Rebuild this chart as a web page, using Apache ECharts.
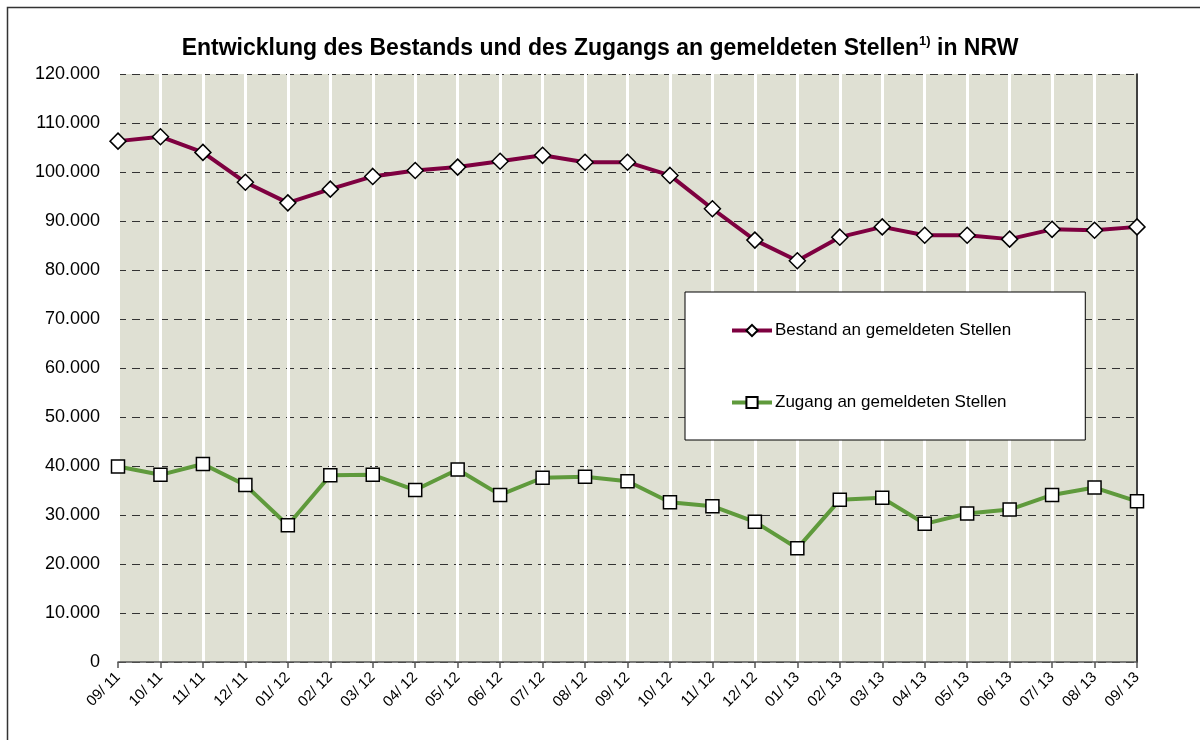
<!DOCTYPE html>
<html>
<head>
    <title></title>
    <meta charset="UTF-8">
    <script type="text/javascript" src="https://cdn.jsdelivr.net/npm/echarts@6/dist/echarts.min.js"></script>
    <style type="text/css">
        body,html{ padding:0px; margin:0px; background:#fff;}
        #chart_box{ width:1200px; height:740px; }
    </style>
</head>
<body>
<div id="chart_box"></div>
<script type="text/javascript">
    // Monate (x-Achse)
    var months = ["09/ 11","10/ 11","11/ 11","12/ 11","01/ 12","02/ 12","03/ 12","04/ 12","05/ 12","06/ 12","07/ 12","08/ 12","09/ 12",
                  "10/ 12","11/ 12","12/ 12","01/ 13","02/ 13","03/ 13","04/ 13","05/ 13","06/ 13","07/ 13","08/ 13","09/ 13"];
    // Bestand an gemeldeten Stellen
    var bestand = [106300,107200,104000,97900,93700,96500,99100,100300,101000,102200,103400,102000,102000,
                   99300,92500,86100,81900,86700,88800,87100,87100,86300,88300,88100,88800];
    // Zugang an gemeldeten Stellen
    var zugang = [39900,38200,40400,36100,27900,38100,38200,35100,39300,34100,37600,37800,36900,
                  32600,31800,28600,23200,33100,33500,28200,30300,31100,34100,35600,32800];
    var yMin = 0, yMax = 120000, yStep = 10000;

    function fmt(v) {
        return v === 0 ? '0' : String(v).replace(/\B(?=(\d{3})+(?!\d))/g, '.');
    }

    var myChart = echarts.init(document.getElementById('chart_box'));
    var font = 'Liberation Sans, Arial, sans-serif';

    var option = {
        backgroundColor: '#fff',
        animation: false,
        textStyle: { fontFamily: font },
        graphic: [{
            type: 'rect',
            shape: { x: 7.5, y: 7.5, width: 1210, height: 800 },
            style: { fill: 'none', stroke: '#333', lineWidth: 1.5 },
            z: -10
        }],
        title: {
            text: 'Entwicklung des Bestands und des Zugangs an gemeldeten Stellen{sup|1)} in NRW',
            left: 'center',
            top: 30,
            textStyle: {
                fontFamily: font,
                fontSize: 23,
                fontWeight: 'bold',
                color: '#000',
                lineHeight: 27,
                rich: {
                    sup: { fontSize: 13, fontWeight: 'bold', color: '#000', verticalAlign: 'top', fontFamily: font }
                }
            }
        },
        legend: {
            orient: 'vertical',
            left: 685,
            top: 292,
            backgroundColor: '#fff',
            borderColor: '#000',
            borderWidth: 1,
            padding: [30, 74, 29, 45],
            itemGap: 55,
            itemWidth: 40,
            itemHeight: 14,
            lineStyle: { width: 4 },
            textStyle: { fontSize: 17, color: '#000', fontFamily: font, padding: [0, 0, 0, -2] },
            data: ['Bestand an gemeldeten Stellen', 'Zugang an gemeldeten Stellen']
        },
        grid: {
            left: 118, right: 63, top: 74, bottom: 78,
            show: true,
            backgroundColor: '#dfe0d3',
            borderWidth: 0
        },
        xAxis: {
            type: 'category',
            boundaryGap: false,
            data: months,
            axisLine: { show: true, lineStyle: { color: '#555', width: 1.5 } },
            axisTick: { show: true, length: 6, lineStyle: { color: '#555', width: 1.5 } },
            axisLabel: { rotate: 45, fontSize: 15, color: '#000', margin: 13, fontFamily: font },
            splitLine: { show: true, lineStyle: { color: '#fff', width: 3 } }
        },
        yAxis: [{
            type: 'value',
            min: yMin, max: yMax, interval: yStep,
            axisLine: { show: false },
            axisTick: { show: false },
            axisLabel: { fontSize: 18, color: '#000', margin: 18, fontFamily: font, formatter: fmt },
            splitLine: { show: true, lineStyle: { color: '#333', width: 1, type: [8, 6] } }
        }, {
            type: 'value',
            position: 'right',
            min: yMin, max: yMax, interval: yStep,
            axisLine: { show: true, lineStyle: { color: '#000', width: 1.5 } },
            axisTick: { show: false },
            axisLabel: { show: false },
            splitLine: { show: false }
        }],
        series: [{
            name: 'Bestand an gemeldeten Stellen',
            type: 'line',
            data: bestand,
            symbol: 'diamond',
            symbolSize: 16,
            lineStyle: { color: '#7e0040', width: 4 },
            itemStyle: { color: '#fff', borderColor: '#000', borderWidth: 1.5 },
            z: 3
        }, {
            name: 'Zugang an gemeldeten Stellen',
            type: 'line',
            data: zugang,
            symbol: 'rect',
            symbolSize: 13,
            lineStyle: { color: '#5f9a3c', width: 4 },
            itemStyle: { color: '#fff', borderColor: '#000', borderWidth: 1.5 },
            z: 3
        }]
    };

    myChart.setOption(option);
</script>
</body>
</html>
